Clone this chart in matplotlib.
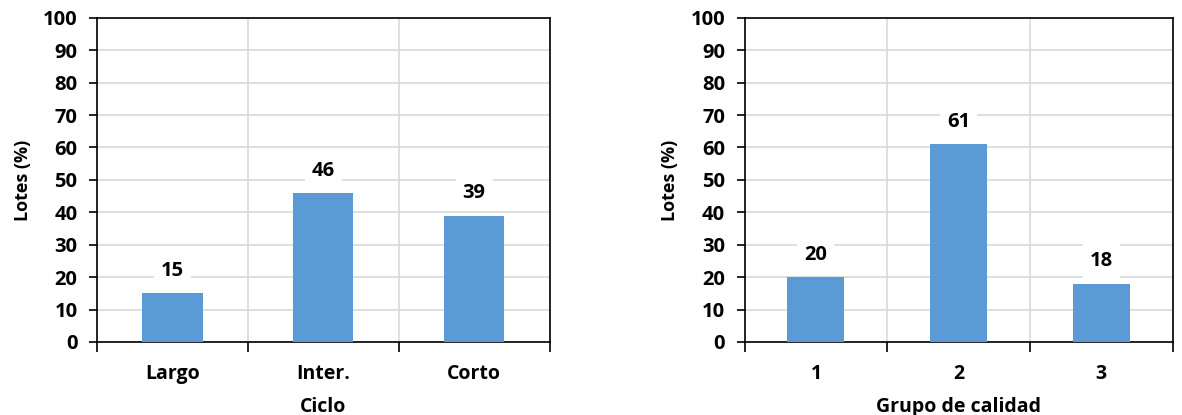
import matplotlib
matplotlib.use("Agg")
import matplotlib.pyplot as plt
from matplotlib.ticker import FixedLocator, MultipleLocator

plt.rcParams['font.family'] = ['Open Sans', 'DejaVu Sans']
plt.rcParams['font.weight'] = 'bold'

ciclo_labels = ["Largo", "Inter.", "Corto"]
ciclo_values = [15, 46, 39]
grupo_labels = ["1", "2", "3"]
grupo_values = [20, 61, 18]

BAR_COLOR = "#5B9BD5"
GRID_COLOR = "#D9D9D9"
FS = 14.5

fig = plt.figure(figsize=(11.82, 4.15), dpi=100)
ax1 = fig.add_axes([0.082, 0.176, 0.383, 0.781])
ax2 = fig.add_axes([0.630, 0.176, 0.362, 0.781])


def draw(ax, labels, values, xlabel):
    x = list(range(len(labels)))
    ax.bar(x, values, width=0.4, color=BAR_COLOR, zorder=3)
    ax.set_xlim(-0.5, len(labels) - 0.5)
    ax.set_ylim(0, 100)
    ax.yaxis.set_major_locator(MultipleLocator(10))
    ax.set_xticks(x)
    ax.set_xticklabels(labels, fontsize=FS - 0.5, fontweight='bold')
    ax.xaxis.set_minor_locator(FixedLocator([i - 0.5 for i in range(len(labels) + 1)]))
    ax.tick_params(axis='x', which='major', length=0, pad=16)
    ax.tick_params(axis='x', which='minor', length=7, width=1.2, direction='out')
    ax.tick_params(axis='y', which='major', length=6, width=1.2, direction='out',
                   labelsize=FS, pad=8)
    for lab in ax.get_yticklabels():
        lab.set_fontweight('bold')
    ax.grid(axis='y', which='major', color=GRID_COLOR, linewidth=1.2, zorder=0)
    ax.grid(axis='x', which='minor', color=GRID_COLOR, linewidth=1.2, zorder=0)
    for s in ax.spines.values():
        s.set_linewidth(1.2)
        s.set_color('black')
    ax.set_ylabel("Lotes (%)", fontsize=FS - 1.5, fontweight='bold', labelpad=8)
    ax.set_xlabel(xlabel, fontsize=FS - 0.5, fontweight='bold', labelpad=9)
    for xi, v in zip(x, values):
        ax.annotate(f"{v}", (xi, v), xytext=(0, 16), textcoords='offset points',
                    ha='center', va='center', fontsize=FS, fontweight='bold',
                    bbox=dict(boxstyle='square,pad=0.35', fc='white', ec='none'),
                    zorder=4)


draw(ax1, ciclo_labels, ciclo_values, "Ciclo")
draw(ax2, grupo_labels, grupo_values, "Grupo de calidad")

fig.savefig("out.png", dpi=100)
